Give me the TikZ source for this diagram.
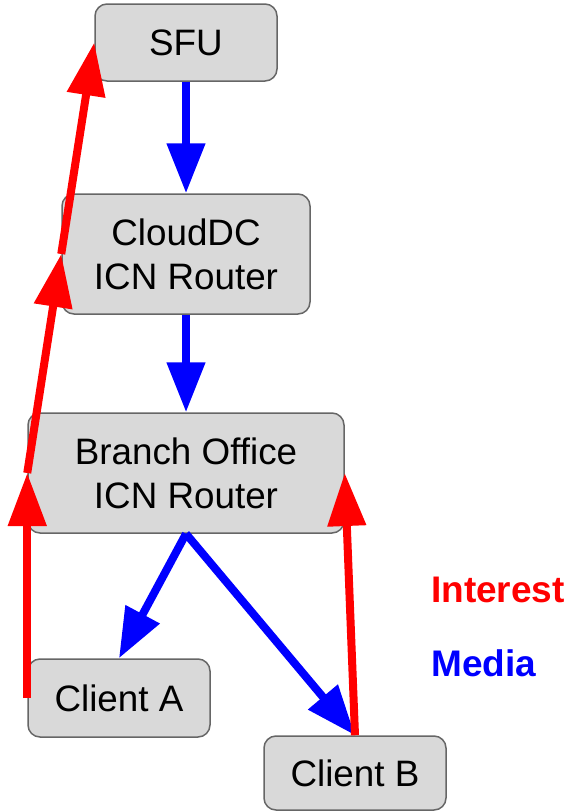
\documentclass[tikz,border=0pt]{standalone}
\usepackage{fontspec}
\setmainfont{Liberation Sans}
\usetikzlibrary{arrows.meta}
\definecolor{boxfill}{HTML}{D9D9D9}
\definecolor{boxline}{HTML}{666666}
\tikzset{
  box/.style={draw=boxline, line width=1.5pt, fill=boxfill, rounded corners=12pt,
    align=center, inner sep=0pt, font=\fontsize{36.8}{44}\selectfont},
  media/.style={draw=blue, line width=8pt, -{Triangle[length=50pt 0 0,width=37pt 0 0]}, blue},
  interest/.style={draw=red, line width=8pt, -{Triangle[length=53pt 0 0,width=37pt 0 0]}, red},
  legend/.style={anchor=base west, inner sep=0pt, font=\bfseries\fontsize{37}{44}\selectfont}
}
\begin{document}
\begin{tikzpicture}[x=1pt, y=-1pt]
  \useasboundingbox (0,0) rectangle (566,811);
  \node[box, minimum width=182pt, minimum height=77pt] (sfu) at (186,42.5) {SFU};
  \node[box, minimum width=248pt, minimum height=120pt] (cloud) at (186,254) {CloudDC\\ICN Router};
  \node[box, minimum width=316pt, minimum height=120pt] (branch) at (186,473) {Branch Office\\ICN Router};
  \node[box, minimum width=182pt, minimum height=78pt] (ca) at (119,698) {Client A};
  \node[box, minimum width=182pt, minimum height=74pt] (cb) at (355,773) {Client B};
  \node[legend, red] (lint) at (431,602) {Interest};
  \node[legend, blue] (lmed) at (431,676) {Media};
  % media
  \draw[media] (sfu.south) -- (cloud.north);
  \draw[media] (cloud.south) -- (branch.north);
  \draw[media] (branch.south) -- (ca.north);
  \draw[media] (branch.south) -- (cb.north);
  % interest
  \draw[interest] (ca.west) -- (branch.center -| ca.west);
  \draw[interest] (branch.west) -- (cloud.west);
  \draw[interest] (cloud.west) -- (sfu.west);
  \draw[interest] (cb.north) -- (branch.east);
\end{tikzpicture}
\end{document}
